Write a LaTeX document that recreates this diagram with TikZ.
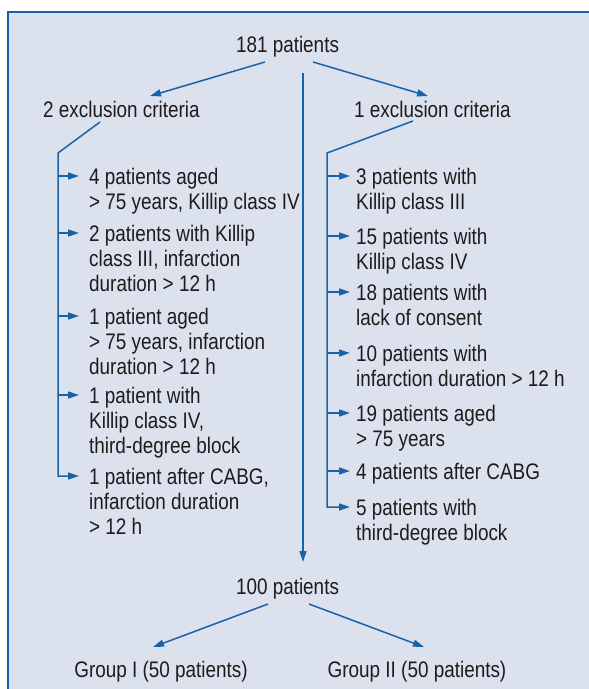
\documentclass[tikz,border=0pt]{standalone}
\usepackage{fontspec}
\setmainfont[FakeStretch=0.84]{Liberation Sans}
\usetikzlibrary{arrows.meta}
\definecolor{bgc}{RGB}{220,225,238}
\definecolor{lnc}{RGB}{26,98,168}
\definecolor{txc}{RGB}{30,27,28}
\newcommand\mlines[1]{\vtop{\baselineskip=25pt\lineskiplimit=-30pt\halign{##\hfil\cr#1\crcr}}}
\begin{document}
\begin{tikzpicture}[x=1pt,y=-1pt,font=\fontsize{22.5}{25}\selectfont,
  txt/.style={inner sep=0pt,text=txc,anchor=base west},
  ctxt/.style={inner sep=0pt,text=txc,anchor=base},
  conn/.style={draw=lnc,line width=1.5pt},
  arr/.style={conn,-{Triangle[length=11pt,width=7pt]}}]
\useasboundingbox (0,0) rectangle (589,689);
\fill[white] (0,0) rectangle (589,689);
\fill[bgc] (8,12) rectangle (589,689);
\draw[conn] (8,689) -- (8,12) -- (589,12);

% main nodes
\node[ctxt] (n181) at (287.5,52) {181 patients};
\node[txt] (ex2) at (43,117) {2 exclusion criteria};
\node[txt] (ex1) at (354,117) {1 exclusion criteria};
\node[ctxt] (n100) at (287.5,594) {100 patients};
\node[ctxt] (g1) at (161,677) {Group I (50 patients)};
\node[ctxt] (g2) at (417,677) {Group II (50 patients)};

% left items
\node[txt] (l1) at (89,184) {\mlines{4 patients aged\cr > 75 years, Killip class IV}};
\node[txt] (l2) at (89,241) {\mlines{2 patients with Killip\cr class III, infarction\cr duration > 12 h}};
\node[txt] (l3) at (89,324) {\mlines{1 patient aged\cr > 75 years, infarction\cr duration > 12 h}};
\node[txt] (l4) at (89,403) {\mlines{1 patient with\cr Killip class IV,\cr third-degree block}};
\node[txt] (l5) at (89,484) {\mlines{1 patient after CABG,\cr infarction duration\cr > 12 h}};

% right items
\node[txt] (r1) at (356,184) {\mlines{3 patients with\cr Killip class III}};
\node[txt] (r2) at (356,244) {\mlines{15 patients with\cr Killip class IV}};
\node[txt] (r3) at (356,300) {\mlines{18 patients with\cr lack of consent}};
\node[txt] (r4) at (356,361) {\mlines{10 patients with\cr infarction duration > 12 h}};
\node[txt] (r5) at (356,421) {\mlines{19 patients aged\cr > 75 years}};
\node[txt] (r6) at (356,479) {4 patients after CABG};
\node[txt] (r7) at (356,515) {\mlines{5 patients with\cr third-degree block}};

% coordinates
\coordinate (t1) at (265,62);  \coordinate (t1e) at (150,96);
\coordinate (t2) at (313,62);  \coordinate (t2e) at (428,96);
\coordinate (m0) at (303,73);  \coordinate (m1) at (303,562);
\coordinate (b1) at (268,604); \coordinate (b1e) at (153,647);
\coordinate (b2) at (309,604); \coordinate (b2e) at (424,647);
\coordinate (L0) at (100,122); \coordinate (L1) at (58,153);
\coordinate (R0) at (413,121); \coordinate (R1) at (327,153);

\draw[arr] (t1) -- (t1e);
\draw[arr] (t2) -- (t2e);
\draw[arr] (m0) -- (m1);
\draw[arr] (b1) -- (b1e);
\draw[arr] (b2) -- (b2e);

% left branch
\draw[arr] (L0) -- (L1) -- (58,476) -- (79,476);
\foreach \y in {176,233,316,395} \draw[arr] (58,\y) -- (79,\y);
% right branch
\draw[arr] (R0) -- (R1) -- (327,507) -- (350,507);
\foreach \y in {176,236,292,353,413,471} \draw[arr] (327,\y) -- (350,\y);
\end{tikzpicture}
\end{document}
